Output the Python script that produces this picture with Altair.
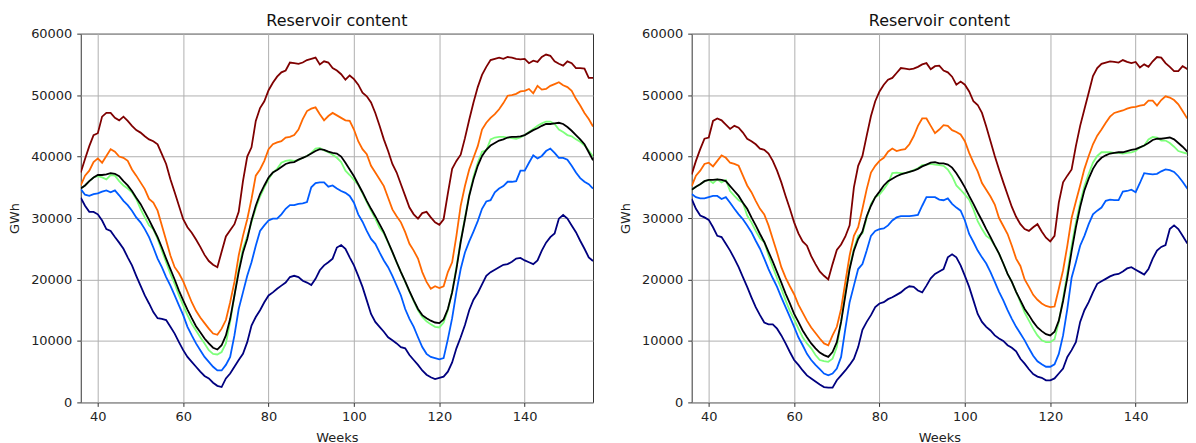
import altair as alt
import pandas as pd

# ---------------- data ----------------
weeks_left = list(range(36, 157))
weeks_right = list(range(36, 155))

series_names = ["Min", "Low", "Median", "High", "Max", "Mean"]
series_colors = ["#00007f", "#005cff", "#7dff7a", "#ff6800", "#7f0000", "#000000"]

left_max = [37400, 39600, 41700, 43500, 43800, 46500, 47100, 47100, 46300, 45900,
            46500, 45800, 45000, 44300, 43900, 43300, 42800, 42500, 42000, 40400,
            38800, 36300, 34200, 32000, 29800, 28500, 27600, 26500, 25300, 24000,
            23000, 22400, 22000, 24500, 27000, 28000, 29000, 31000, 36000, 40000,
            41500, 45800, 47900, 49000, 50800, 52000, 53000, 53700, 54000, 55300,
            55200, 55100, 55300, 55700, 55900, 56100, 55000, 55500, 55300, 54400,
            54000, 53400, 52500, 53200, 52600, 51700, 50400, 49800, 48800, 47100,
            45000, 42800, 40900, 38800, 37400, 35500, 33600, 31700, 30600, 29900,
            30800, 31000, 30100, 29300, 28900, 29800, 34000, 38000, 39300, 40300,
            43000, 46000, 48800, 51300, 53300, 54600, 55700, 55900, 56100, 55900,
            56200, 56100, 55900, 55800, 55900, 55200, 55600, 55400, 56200, 56600,
            56400, 55500, 55100, 54800, 55500, 55200, 54400, 54400, 54300, 52800,
            52800]
left_high = [35300, 36900, 37700, 39100, 39700, 39000, 40100, 41200, 40800, 40000,
             39800, 39300, 37900, 36900, 35800, 34700, 33100, 32500, 31200, 28800,
             26400, 23900, 22000, 21000, 19700, 18000, 16300, 14900, 13800, 12900,
             12000, 11200, 11000, 12000, 13400, 16300, 19600, 23900, 27100, 29800,
             33100, 36900, 37900, 39300, 41200, 42000, 42300, 42500, 43100, 43200,
             43500, 44400, 46100, 47400, 47800, 48000, 46900, 45900, 46600, 47100,
             46700, 46300, 45900, 45800, 44400, 42500, 41200, 40400, 38500, 37400,
             36300, 35200, 33300, 31400, 30300, 29300, 27700, 25800, 24700, 23400,
             21200, 19600, 18500, 18900, 18600, 18900, 21200, 22800, 27100, 32000,
             35200, 37900, 39800, 41700, 44400, 45500, 46300, 46900, 47700, 48700,
             49900, 50000, 50200, 50600, 50700, 51000, 50300, 51500, 50900, 51000,
             51500, 51800, 52100, 51600, 51300, 50700, 49400, 48300, 47100, 46100,
             44900]
left_median = [34800, 35300, 36000, 36600, 36800, 36600, 36300, 37000, 36900, 36000,
               35300, 34800, 34200, 33100, 31500, 30100, 28800, 28200, 26600, 24700,
               22800, 20900, 19300, 17400, 15800, 14200, 12800, 11700, 10600, 9600,
               8500, 7900, 7800, 8200, 9600, 13100, 17400, 21700, 25000, 27000,
               29300, 31600, 33500, 35000, 36300, 37400, 38000, 39000, 39300, 39400,
               39300, 39400, 39800, 40100, 40600, 41300, 41400, 41000, 40700, 40300,
               39800, 39100, 37700, 37000, 36200, 35400, 34000, 32600, 31200, 29900,
               28400, 27500, 26000, 24400, 22800, 21200, 19600, 18000, 16500, 15000,
               13900, 13200, 12700, 12300, 12200, 13000, 15000, 18000, 22000, 26300,
               30000, 33800, 36700, 39000, 40800, 41000, 42800, 43100, 43200, 43200,
               43100, 43000, 42900, 43100, 43500, 44000, 44500, 45000, 45400, 45700,
               45700, 45300, 44400, 44000, 43500, 43300, 42800, 42400, 41800, 41000,
               40000]
left_mean = [34800, 35300, 36000, 36600, 37000, 37000, 37100, 37300, 37200, 36800,
             36000, 35300, 34400, 33300, 32300, 31000, 29700, 28300, 26900, 25200,
             23400, 21700, 20000, 18200, 16600, 15100, 13700, 12400, 11400, 10400,
             9600, 8900, 8600, 9300, 10900, 13600, 17400, 21200, 24400, 26600,
             29600, 32000, 33900, 35300, 36600, 37400, 37800, 38300, 38800, 39000,
             39100, 39500, 39800, 40100, 40500, 40900, 41200, 41100, 40800, 40600,
             40500, 40000, 39000, 37900, 36800, 35500, 34200, 32800, 31500, 30300,
             29000, 27700, 26100, 24500, 22800, 21200, 19700, 18100, 16600, 15200,
             14200, 13700, 13300, 13000, 12900, 13500, 15200, 17900, 21700, 26100,
             29800, 33600, 36300, 38500, 40100, 41100, 41800, 42200, 42600, 42800,
             43100, 43200, 43200, 43300, 43500, 43900, 44300, 44600, 45000, 45300,
             45300, 45400, 45500, 45300, 44800, 44200, 43500, 42800, 42000, 40700,
             39400]
left_low = [34700, 33800, 33600, 33900, 34000, 34300, 34500, 34200, 34500, 33700,
            32800, 32100, 31200, 30100, 29300, 28200, 26900, 25200, 23400, 22000,
            20400, 19000, 17400, 15800, 14200, 12300, 10900, 9600, 8500, 7400,
            6600, 5800, 5200, 5200, 6100, 7400, 10900, 15200, 17900, 20600,
            22800, 25500, 27900, 28800, 29600, 29900, 29900, 30600, 31500, 32100,
            32100, 32300, 32400, 32600, 35000, 35700, 35800, 35800, 35100, 35300,
            34800, 34400, 34100, 33600, 32500, 30600, 29400, 27900, 26600, 25800,
            24400, 23100, 22000, 20600, 19000, 17400, 15200, 13600, 12300, 10600,
            9000, 7900, 7400, 7200, 7000, 7200, 10300, 13700, 18000, 21700,
            24400, 26200, 27800, 29500, 31500, 32700, 32900, 34200, 34800, 35200,
            35900, 35900, 36000, 37700, 37700, 39000, 40200, 39700, 40100, 40900,
            41300, 40600, 39800, 39800, 39500, 38500, 37400, 36500, 35900, 35500,
            34800]
left_min = [33300, 32000, 31000, 31000, 30600, 29600, 28200, 27900, 26900, 26000,
            25000, 23600, 22300, 20600, 19000, 17400, 16100, 14700, 13700, 13600,
            13400, 12300, 11200, 9800, 8500, 7400, 6600, 5800, 5000, 4300,
            3900, 3200, 2700, 2500, 3900, 4700, 5800, 6900, 7900, 9800,
            12500, 13900, 15000, 16300, 17400, 17900, 18500, 19000, 19500, 20400,
            20600, 20400, 19800, 19500, 19100, 20100, 21500, 22300, 22800, 23400,
            25200, 25600, 25000, 23600, 22300, 20600, 18800, 16600, 14400, 13100,
            12300, 11500, 10600, 10100, 9600, 9000, 8800, 7700, 6900, 6100,
            5200, 4500, 4100, 3800, 4000, 4200, 5000, 6500, 8800, 10600,
            12600, 15000, 16700, 17800, 19200, 20600, 21200, 21600, 22000, 22400,
            22500, 22900, 23400, 23500, 23100, 22800, 22500, 23100, 24700, 26000,
            26900, 27500, 29900, 30500, 29900, 28800, 27700, 26300, 25000, 23600,
            23000]

right_max = [37100, 39300, 41200, 42900, 43100, 45800, 46200, 45900, 45200, 44500,
             45000, 44700, 43900, 42900, 42500, 42000, 41300, 41100, 40500, 39300,
             37700, 35800, 33600, 31500, 29300, 27500, 26200, 25500, 23800, 22500,
             21300, 20600, 20000, 22500, 24800, 25700, 27000, 28800, 35000, 38500,
             40100, 43400, 46600, 49000, 50600, 51700, 52500, 52800, 53600, 54400,
             54300, 54200, 54300, 54600, 55000, 55200, 54200, 54700, 54800, 54000,
             53700, 53000, 51700, 52200, 51700, 50600, 49000, 48400, 47100, 44900,
             42500, 40100, 37900, 35800, 33800, 31800, 30200, 29000, 28200, 27900,
             28500, 29000, 27800, 26800, 26200, 27100, 32500, 35800, 36900, 37900,
             41700, 45000, 47700, 50400, 53100, 54400, 55100, 55300, 55500, 55400,
             55300, 55700, 55400, 55200, 55400, 54500, 55000, 54600, 55500, 56200,
             56100, 55200, 54600, 53900, 53900, 54700, 54300, 53500, 52800]
right_high = [35200, 36900, 37700, 38800, 39000, 38400, 39300, 40200, 39800, 39000,
              38800, 38500, 36900, 35300, 34200, 32800, 31500, 30600, 28800, 26600,
              24400, 22000, 20300, 18900, 17600, 15900, 14600, 13300, 12200, 11300,
              10400, 9600, 9300, 10900, 12300, 15200, 19600, 23900, 27100, 28500,
              31500, 34700, 37400, 38500, 39300, 39800, 40800, 41300, 40900, 41100,
              41200, 42000, 43300, 45000, 46200, 46200, 45000, 43800, 44400, 45100,
              45000, 44300, 44000, 43600, 42500, 40600, 39000, 37600, 35700, 34600,
              33500, 32200, 30000, 28700, 27400, 25500, 23400, 22200, 20000, 18800,
              17500, 16700, 16100, 15700, 15500, 15600, 18500, 21500, 25500, 30000,
              32700, 35300, 38000, 40100, 42000, 43400, 44400, 45500, 46500, 47100,
              47300, 47500, 47800, 48000, 48100, 48300, 48400, 49100, 49100, 48300,
              49200, 49800, 49600, 49200, 48500, 47400, 46300, 46000, 45000]
right_median = [34600, 35100, 35500, 36000, 36200, 35700, 36300, 35800, 36200, 34400,
                33600, 32900, 32500, 30400, 29300, 27900, 26700, 26100, 23900, 22000,
                20200, 18500, 16600, 14900, 13500, 12000, 10600, 9600, 8800, 7700,
                6900, 6700, 6600, 7100, 9000, 13100, 17900, 22000, 25000, 27100,
                27500, 30000, 32300, 33400, 33800, 34700, 35700, 37300, 37400, 37300,
                37300, 37500, 37800, 38100, 38600, 38700, 38800, 38700, 38600, 38500,
                37900, 36800, 35300, 34600, 33800, 33000, 31400, 29500, 28200, 27100,
                26600, 25500, 24200, 22600, 20900, 19600, 18000, 16300, 14600, 13300,
                12000, 10900, 10100, 9800, 9800, 10300, 13100, 16900, 21100, 25500,
                29300, 32500, 35200, 37200, 39000, 40100, 40700, 40700, 40700, 40600,
                40600, 40500, 40600, 40700, 40900, 41500, 41800, 42800, 43200, 43100,
                42600, 42600, 42200, 41600, 40900, 40700, 40500, 40400, 39600]
right_mean = [34600, 35100, 35500, 36000, 36200, 36200, 36300, 36200, 36000, 35200,
              34400, 33600, 32500, 31500, 30100, 28800, 27400, 26100, 24500, 22900,
              21200, 19500, 17700, 16100, 14400, 13100, 11700, 10600, 9600, 8800,
              8100, 7700, 7400, 8200, 9800, 13100, 17400, 21700, 24700, 26600,
              27800, 30300, 32000, 33400, 34300, 35300, 36000, 36400, 36800, 37100,
              37300, 37500, 37700, 38000, 38400, 38700, 39000, 39100, 38900, 38900,
              38700, 38200, 37300, 36200, 35000, 33600, 32300, 30900, 29600, 28200,
              26900, 25500, 24200, 22600, 20900, 19600, 18000, 16600, 15200, 14200,
              13100, 12200, 11600, 11100, 10900, 11500, 13300, 16500, 20300, 24600,
              28500, 31800, 34500, 36400, 38000, 39100, 39800, 40200, 40500, 40600,
              40700, 40700, 40900, 41100, 41200, 41500, 41800, 42200, 42700, 42900,
              42900, 43000, 43100, 42800, 42200, 41600, 40900, 40200, 39300]
right_low = [33900, 33400, 33200, 33200, 33400, 33600, 33600, 33100, 33400, 32500,
             31500, 30600, 29800, 28800, 27700, 26300, 25000, 23400, 21700, 20200,
             18800, 17100, 15500, 13900, 12300, 10600, 9300, 7900, 6900, 6100,
             5400, 4700, 4400, 4700, 5500, 7400, 12000, 16300, 19000, 21700,
             22500, 24700, 27100, 27900, 28200, 28300, 28800, 29600, 30100, 30300,
             30300, 30300, 30400, 30500, 32000, 33400, 33400, 33400, 33000, 32900,
             33200, 32300, 31700, 31200, 29600, 27400, 26100, 24700, 23600, 22600,
             21200, 19600, 18000, 16600, 15000, 13600, 12300, 11200, 10100, 8800,
             7600, 6700, 6200, 5800, 5800, 6200, 7900, 10900, 15200, 20300,
             22800, 25500, 27100, 29000, 30600, 31200, 31700, 32800, 33000, 32900,
             32900, 34300, 34400, 34600, 34200, 35700, 37300, 37200, 37100, 37200,
             37600, 37900, 37800, 37500, 36800, 35900, 34900, 34100, 33500]
right_min = [33100, 31500, 30400, 30100, 29700, 28500, 27100, 26900, 25800, 24700,
             23400, 22000, 20400, 18800, 17100, 15500, 14200, 13000, 12700, 12700,
             12000, 10900, 9600, 8200, 6900, 6100, 5200, 4400, 3900, 3400,
             2900, 2500, 2400, 2400, 3600, 4400, 5200, 6100, 7100, 9000,
             11800, 13100, 14200, 15500, 16100, 16300, 16800, 17100, 17500, 17900,
             18500, 18900, 18800, 18200, 17900, 19000, 20200, 20900, 21300, 21700,
             23600, 24100, 23600, 22300, 20600, 18800, 16600, 14400, 13100, 12300,
             11700, 10900, 10400, 10000, 9300, 8900, 8300, 7100, 6300, 5400,
             4600, 4200, 4000, 3600, 3600, 3900, 4700, 5500, 7400, 8500,
             9800, 13100, 15000, 16300, 17900, 19300, 19700, 20100, 20500, 20800,
             20900, 21300, 21800, 22000, 21600, 21200, 20800, 21700, 23400, 24700,
             25300, 25600, 28200, 28800, 28200, 27100, 26000, 25200, 24200]

y_ticks = [0, 10000, 20000, 30000, 40000, 50000, 60000]
x_ticks = [40, 60, 80, 100, 120, 140]

FONT = "DejaVu Sans"


def long_frame(weeks, cols):
    rows = []
    for name, vals in zip(series_names, cols):
        for w, v in zip(weeks, vals):
            rows.append({"week": w, "gwh": v, "series": name})
    return pd.DataFrame(rows)


def panel(weeks, cols, xmax, width):
    df = long_frame(weeks, cols)
    x = alt.X("week:Q",
              scale=alt.Scale(domain=[36, xmax], nice=False, zero=False),
              axis=alt.Axis(values=x_ticks, title="Weeks", format="d"))
    y = alt.Y("gwh:Q",
              scale=alt.Scale(domain=[0, 60000], nice=False),
              axis=alt.Axis(values=y_ticks, title="GWh", format="d"))
    colored = alt.Chart(df).transform_filter(
        alt.datum.series != "Mean"
    ).mark_line(strokeWidth=1.8, clip=True).encode(
        x=x, y=y,
        color=alt.Color("series:N",
                        scale=alt.Scale(domain=series_names, range=series_colors),
                        legend=None),
        order=alt.Order("week:Q"),
    )
    mean = alt.Chart(df).transform_filter(
        alt.datum.series == "Mean"
    ).mark_line(strokeWidth=1.8, clip=True, color="#000000").encode(
        x=x, y=y, order=alt.Order("week:Q"),
    )
    return alt.layer(colored, mean).properties(
        width=width, height=370,
        title=alt.TitleParams("Reservoir content", fontSize=16, font=FONT,
                              fontWeight="normal", color="#111111", offset=-1.5),
    )


PX_PER_WEEK = 514 / 120.0
RIGHT_W = 497

left = panel(weeks_left,
             [left_min, left_low, left_median, left_high, left_max, left_mean],
             156, 514)
right = panel(weeks_right,
              [right_min, right_low, right_median, right_high, right_max, right_mean],
              36 + RIGHT_W / PX_PER_WEEK, RIGHT_W)

chart = alt.hconcat(left, right, spacing=25).properties(
    padding={"left": 0, "top": 4, "right": 0, "bottom": 0}
).configure_view(
    stroke="#333333", strokeWidth=1
).configure_axis(
    grid=True, gridColor="#b0b0b0", gridWidth=1,
    domain=False, ticks=True, tickColor="#333333", tickSize=4,
    labelFont=FONT, labelFontSize=13, labelColor="#222222", labelPadding=5,
    titleFont=FONT, titleFontSize=13, titleFontWeight="normal", titleColor="#222222",
).configure_axisY(titlePadding=9).configure_axisX(titlePadding=8, labelPadding=4)

chart.save("out.html", embed_options={"renderer": "svg", "actions": False})
